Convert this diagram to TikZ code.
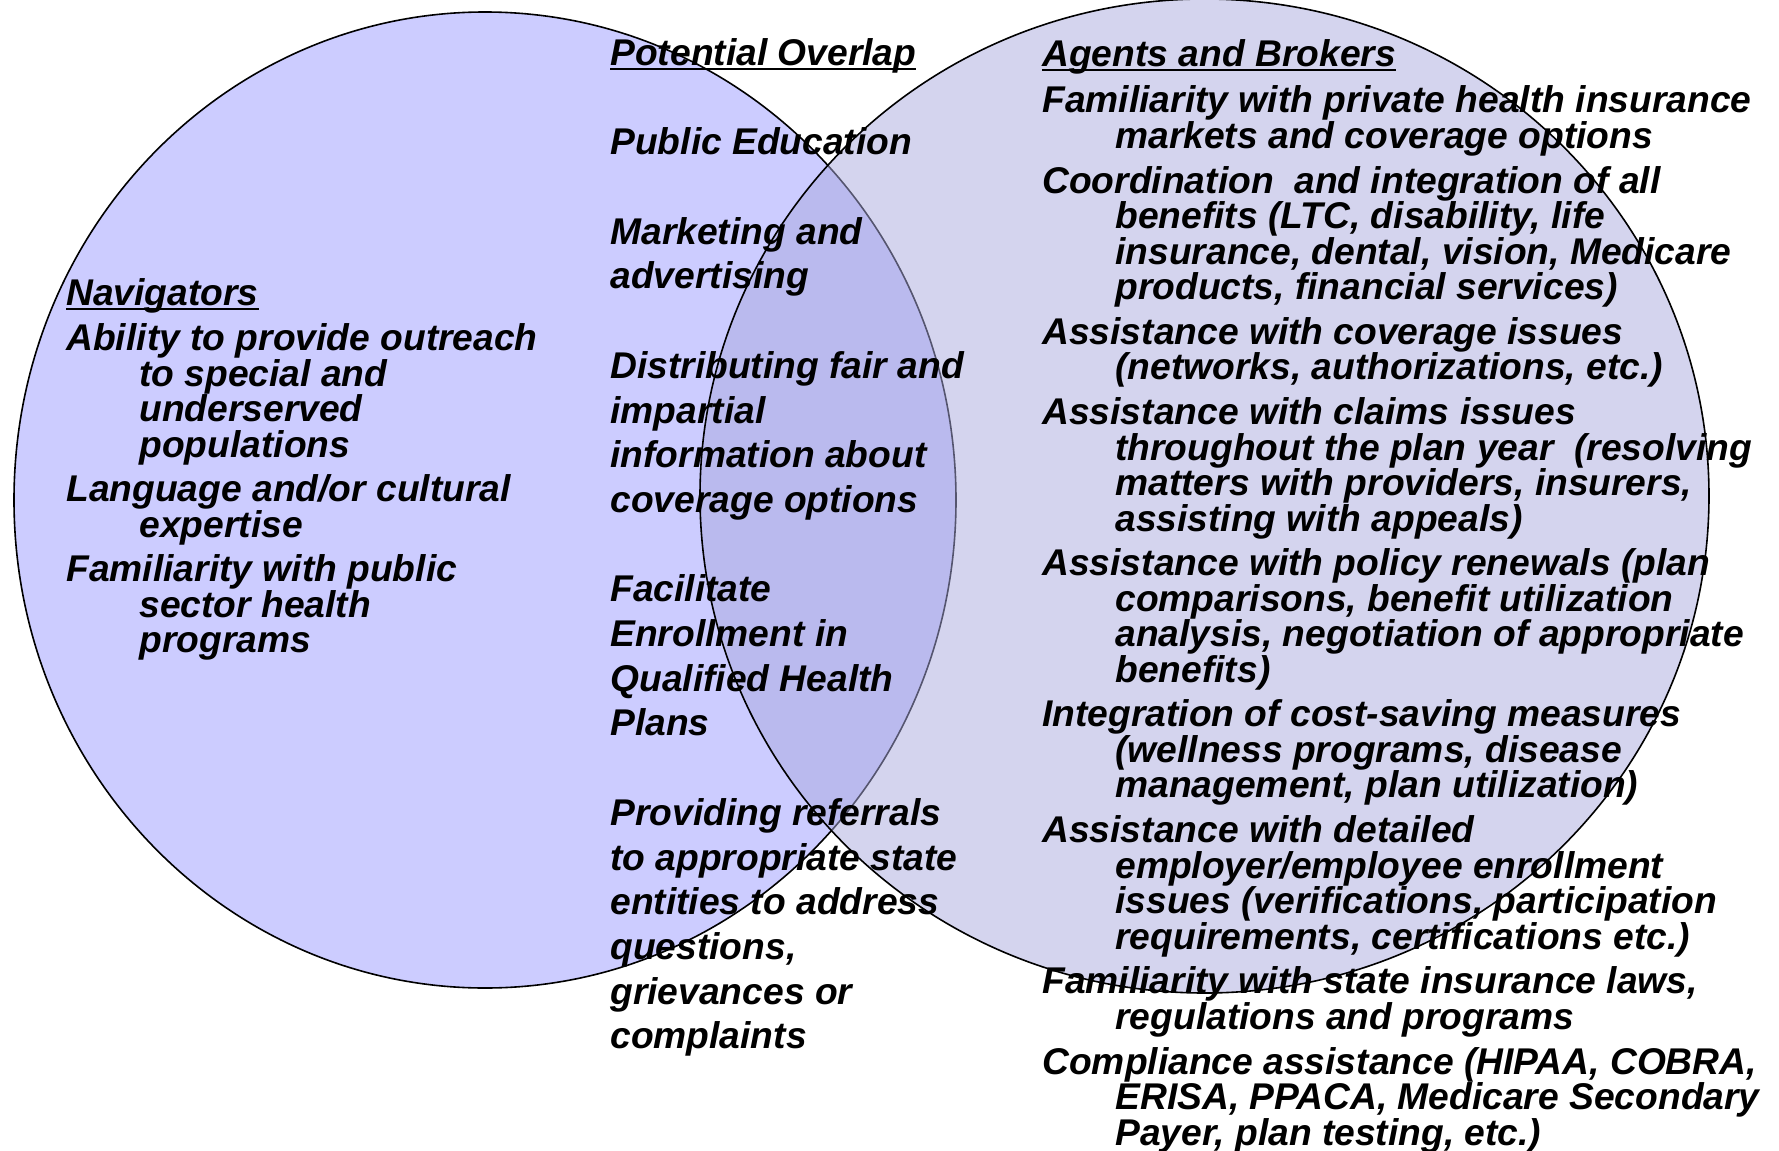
\documentclass[tikz,border=0pt]{standalone}
\usepackage{fontspec}
\setmainfont{Liberation Sans}
\usetikzlibrary{positioning}

\definecolor{navfill}{RGB}{204,204,255}
\definecolor{agentfill}{RGB}{170,170,222}

% text set-up for the three columns
\newcommand\sidefont{\fontsize{18.6pt}{17.75pt}\selectfont\bfseries\itshape\lineskiplimit=-20pt}
\newcommand\midfont{\fontsize{18.6pt}{22.35pt}\selectfont\bfseries\itshape}
\newcommand\ind{\hspace*{36.5pt}}
\newcommand\heading[1]{\setbox0\hbox{#1}\rule{0pt}{14pt}\rlap{\rule[-2.4pt]{\wd0}{1.1pt}}\box0}

\begin{document}
\begin{tikzpicture}[x=0.5pt, y=-0.5pt,
set/.style={draw=black, line width=0.8pt},
sidecol/.style={anchor=north west, inner sep=0pt, align=left, font=\sidefont},
midcol/.style={anchor=north west, inner sep=0pt, align=left, font=\midfont}
]
\useasboundingbox (0,0) rectangle (1779,1151);

% the two sets
\path[set, fill=navfill] (485,500) ellipse [x radius=471, y radius=488];
\path[set, fill=agentfill, fill opacity=0.5] (1204.5,496) ellipse [x radius=504.5, y radius=497];

\node[sidecol] (nav) at (66,277) {\heading{Navigators}\\[5pt]
Ability to provide outreach\\
\ind to special and\\
\ind underserved\\
\ind populations\\[4.5pt]
Language and/or cultural\\
\ind expertise\\[4.5pt]
Familiarity with public\\
\ind sector health\\
\ind programs};

\node[midcol] (overlap) at (610,37) {\heading{Potential Overlap}\\[22.35pt]
Public Education\\[22.35pt]
Marketing and\\
advertising\\[22.35pt]
Distributing fair and\\
impartial\\
information about\\
coverage options\\[22.35pt]
Facilitate\\
Enrollment in\\
Qualified Health\\
Plans\\[22.35pt]
Providing referrals\\
to appropriate state\\
entities to address\\
questions,\\
grievances or\\
complaints};

\node[sidecol] (agents) at (1042,38) {\heading{Agents and Brokers}\\[5.5pt]
Familiarity with private health insurance\\
\ind markets and coverage options\\[4.6pt]
Coordination~ and integration of all\\
\ind benefits (LTC, disability, life\\
\ind insurance, dental, vision, Medicare\\
\ind products, financial services)\\[4.6pt]
Assistance with coverage issues\\
\ind (networks, authorizations, etc.)\\[4.6pt]
Assistance with claims issues\\
\ind throughout the plan year~ (resolving\\
\ind matters with providers, insurers,\\
\ind assisting with appeals)\\[4.6pt]
Assistance with policy renewals (plan\\
\ind comparisons, benefit utilization\\
\ind analysis, negotiation of appropriate\\
\ind benefits)\\[4.6pt]
Integration of cost-saving measures\\
\ind (wellness programs, disease\\
\ind management, plan utilization)\\[4.6pt]
Assistance with detailed\\
\ind employer/employee enrollment\\
\ind issues (verifications, participation\\
\ind requirements, certifications etc.)\\[4.6pt]
Familiarity with state insurance laws,\\
\ind regulations and programs\\[4.6pt]
Compliance assistance (HIPAA, COBRA,\\
\ind ERISA, PPACA, Medicare Secondary\\
\ind Payer, plan testing, etc.)};
\end{tikzpicture}
\end{document}
